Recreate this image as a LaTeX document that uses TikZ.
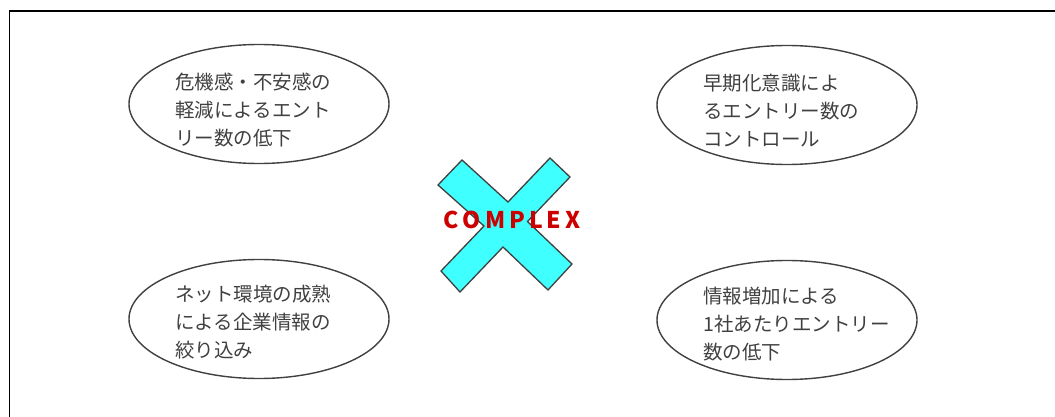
\documentclass[tikz,border=0pt]{standalone}
\usepackage{fontspec}
\usetikzlibrary{shapes.geometric}
\setmainfont{Noto Sans CJK JP}
\newfontfamily\jpfont{Noto Sans CJK JP}
\definecolor{txtgray}{HTML}{404040}
\definecolor{xcyan}{HTML}{40FFFF}
\definecolor{xred}{HTML}{CC0000}
\tikzset{
  bubble/.style={draw=txtgray, line width=1.4pt, ellipse, minimum width=260pt, minimum height=119pt, inner sep=0pt},
  bubbletext/.style={anchor=west, align=left, text=txtgray, inner sep=0pt, font=\jpfont\fontsize{19.5}{28}\selectfont},
  frameline/.style={draw=black, line width=1.6pt},
}
\begin{document}
\begin{tikzpicture}[x=1pt,y=-1pt]
\useasboundingbox (0,0) rectangle (1055,417);
\draw[frameline] (9.5,420) -- (9.5,11) -- (1060,11);
% ellipses
\node[bubble] (e1) at (259,104) {};
\node[bubble] (e2) at (787,105) {};
\node[bubble] (e3) at (259,319) {};
\node[bubble] (e4) at (787,320) {};
% texts
\node[bubbletext] (t1) at (175,110) {危機感・不安感の\\軽減によるエント\\リー数の低下};
\node[bubbletext] (t2) at (703,110.5) {早期化意識によ\\るエントリー数の\\コントロール};
\node[bubbletext] (t3) at (175,322) {ネット環境の成熟\\による企業情報の\\絞り込み};
\node[bubbletext] (t4) at (703,324) {情報増加による\\1社あたりエントリー\\数の低下};
% X shape
\draw[fill=xcyan, draw=txtgray, line width=1.3pt, line join=miter]
  (462,160) -- (508,202) -- (550,158) -- (570,177) -- (527.5,221.5) -- (572,264)
  -- (548,290) -- (503,247) -- (460,292) -- (441,271) -- (484,226) -- (438,185) -- cycle;
\node[text=xred, font=\jpfont\bfseries\fontsize{23}{23}\selectfont, inner sep=0pt] (cx) at (512,220)
  {C\hspace{4pt}O\hspace{4pt}M\hspace{4pt}P\hspace{4pt}L\hspace{4pt}E\hspace{4pt}X};
\end{tikzpicture}
\end{document}
